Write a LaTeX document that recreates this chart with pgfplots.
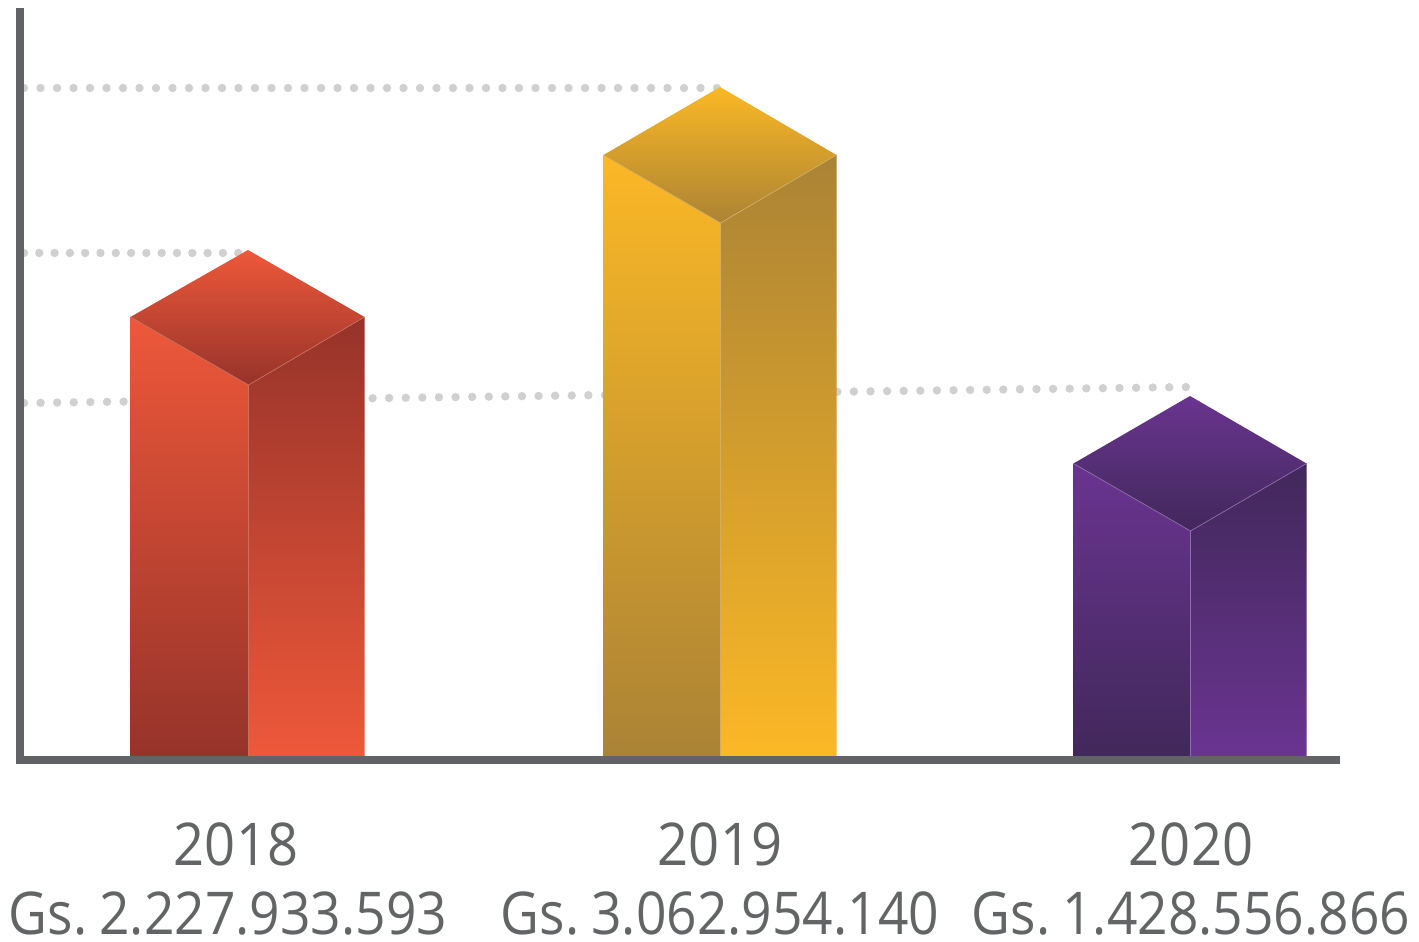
\documentclass[border=0pt]{standalone}
\usepackage{pgfplots}
\pgfplotsset{compat=1.18}
\usepackage{fontspec}
\setmainfont[FakeStretch=0.92]{Open Sans}
\newfontfamily\amountfont[FakeStretch=0.905]{Open Sans}
\definecolor{axc}{HTML}{626366}
\definecolor{txt}{HTML}{636466}
\definecolor{dot}{HTML}{D0D0D0}
\definecolor{ra}{HTML}{EE583A}\definecolor{rb}{HTML}{96332A}\definecolor{rs}{HTML}{C9705F}
\definecolor{ya}{HTML}{FBB826}\definecolor{yb}{HTML}{AB8335}\definecolor{ys}{HTML}{D2AE62}
\definecolor{pa}{HTML}{6A3491}\definecolor{pb}{HTML}{41285A}\definecolor{ps}{HTML}{8D6DAA}
\pgfplotsset{
  face/.style n args={2}{forget plot,no markers,shade,shading=axis,top color=#1,bottom color=#2,draw=none},
  seam/.style={forget plot,no markers,draw=#1,line width=0.35pt},
  guide/.style={forget plot,no markers,draw=dot,line width=4.2pt,line cap=round,dash pattern=on 0pt off #1pt},
}
\tikzset{amount/.style={text=txt,inner sep=0pt,font=\amountfont\fontsize{29.5}{30}\selectfont,anchor=base}}
\begin{document}
\begin{tikzpicture}
\begin{axis}[
  scale only axis,
  width=658pt,height=374pt,
  xmin=20,xmax=1336,ymin=182,ymax=930,
  axis lines=left,
  axis on top,
  axis line style={draw=axc,line width=4pt,-,line cap=rect},
  clip=false,
  ytick=\empty,
  xtick={236,720,1191},
  xticklabels={2018,2019,2020},
  major tick length=0pt,
  xticklabel style={text=txt,inner sep=0pt,font=\fontsize{29.5}{30}\selectfont,anchor=base,yshift=-52.5pt},
]
% guide lines
\addplot[guide=8.25] coordinates {(24,854) (718,854)};
\addplot[guide=7.65] coordinates {(24,689) (240,689)};
\addplot[guide=8.3] coordinates {(24,539) (1188,555)};
% 2018
\addplot[face={ra}{rb}] coordinates {(130.5,625) (248.5,557) (248.5,186) (130.5,186)} -- cycle;
\addplot[face={rb}{ra}] coordinates {(248.5,557) (364.5,625) (364.5,186) (248.5,186)} -- cycle;
\addplot[face={ra}{rb}] coordinates {(130.5,625) (248,692) (364.5,625) (248.5,557)} -- cycle;
\addplot[seam=rs] coordinates {(130.5,625) (248.5,557) (364.5,625)};
\addplot[seam=rs] coordinates {(248.5,557) (248.5,186)};
% 2019
\addplot[face={ya}{yb}] coordinates {(603.5,787) (720.5,719) (720.5,186) (603.5,186)} -- cycle;
\addplot[face={yb}{ya}] coordinates {(720.5,719) (836.5,787) (836.5,186) (720.5,186)} -- cycle;
\addplot[face={ya}{yb}] coordinates {(603.5,787) (720,855) (836.5,787) (720.5,719)} -- cycle;
\addplot[seam=ys] coordinates {(603.5,787) (720.5,719) (836.5,787)};
\addplot[seam=ys] coordinates {(720.5,719) (720.5,186)};
% 2020
\addplot[face={pa}{pb}] coordinates {(1073.5,478.5) (1190.5,411) (1190.5,186) (1073.5,186)} -- cycle;
\addplot[face={pb}{pa}] coordinates {(1190.5,411) (1306.5,478.5) (1306.5,186) (1190.5,186)} -- cycle;
\addplot[face={pa}{pb}] coordinates {(1073.5,478.5) (1190,546) (1306.5,478.5) (1190.5,411)} -- cycle;
\addplot[seam=ps] coordinates {(1073.5,478.5) (1190.5,411) (1306.5,478.5)};
\addplot[seam=ps] coordinates {(1190.5,411) (1190.5,186)};
% amounts
\node[amount] at (axis cs:228,8) {Gs.\kern6pt 2.227.933.593};
\node[amount] at (axis cs:720,8) {Gs.\kern6pt 3.062.954.140};
\node[amount] at (axis cs:1191,8) {Gs.\kern6pt 1.428.556.866};
\path (axis cs:0,0) rectangle (axis cs:1419,942);
\end{axis}
\end{tikzpicture}
\end{document}
